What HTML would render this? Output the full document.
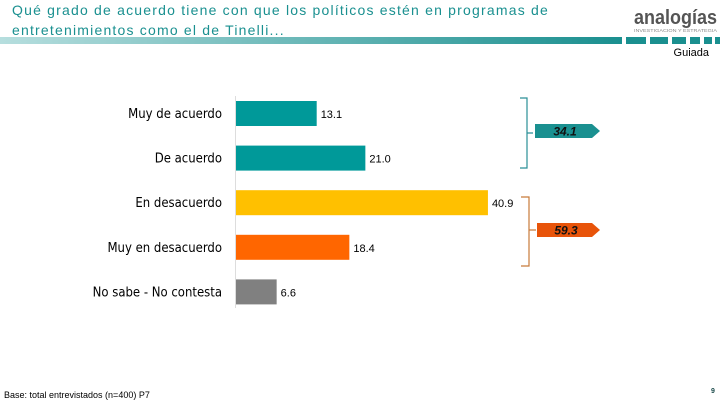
<!DOCTYPE html>
<html><head><meta charset="utf-8"><style>
body{margin:0;width:720px;height:405px;overflow:hidden;background:#fff;font-family:"Liberation Sans",sans-serif;position:relative}
.t{position:absolute;left:12px;top:0;color:#1a9090;font-size:14px;letter-spacing:1.2px;line-height:20px}
</style></head><body>
<div class="t">Qué grado de acuerdo tiene con que los políticos estén en programas de<br>entretenimientos como el de Tinelli...</div>
<svg width="720" height="405" style="position:absolute;left:0;top:0">
<defs><linearGradient id="g" x1="0" x2="1"><stop offset="0" stop-color="#b6dede"/><stop offset="1" stop-color="#1a8f8f"/></linearGradient></defs>
<rect x="0" y="37" width="622" height="7" fill="url(#g)"/>
<g fill="#1a8f8f"><rect x="626" y="37" width="20" height="7"/><rect x="650" y="37" width="18" height="7"/><rect x="672" y="37" width="14" height="7"/><rect x="690" y="37" width="10" height="7"/><rect x="704" y="37" width="8" height="7"/><rect x="715" y="37" width="5" height="7"/></g>
<text x="634" y="24" font-size="20" font-weight="bold" fill="#555" textLength="83" lengthAdjust="spacingAndGlyphs">analogías</text>
<text x="634" y="32" font-size="4.5" fill="#888" textLength="83" lengthAdjust="spacingAndGlyphs">INVESTIGACION Y ESTRATEGIA</text>
<text x="709" y="56" font-size="11" fill="#000" text-anchor="end">Guiada</text>
<line x1="235.5" y1="96" x2="235.5" y2="308" stroke="#ddd"/>
<g id="bars"></g>
<path d="M520 98 H527 V168 H520 M527 133 H533" fill="none" stroke="#2a8f96" stroke-width="1.2"/>
<path d="M535 124 H592 L600 131 L592 138 H535 Z" fill="#1a9090"/>
<text x="565" y="135.5" font-size="12" font-weight="bold" font-style="italic" text-anchor="middle" fill="#111">34.1</text>
<path d="M521 197 H529 V266 H521 M529 230 H536" fill="none" stroke="#c87a3a" stroke-width="1.2"/>
<path d="M537 223 H592 L600 230 L592 237 H537 Z" fill="#e8540a"/>
<text x="566" y="234.5" font-size="12" font-weight="bold" font-style="italic" text-anchor="middle" fill="#111">59.3</text>
<text x="4" y="398" font-size="9" fill="#000">Base: total entrevistados (n=400) P7</text>
<text x="711" y="393" font-size="7" font-weight="bold" fill="#1a4a4a">9</text>
</svg>
<script>
const categories=["Muy de acuerdo","De acuerdo","En desacuerdo","Muy en desacuerdo","No sabe - No contesta"];
const values=[13.1,21.0,40.9,18.4,6.6];
const labels=["13.1","21.0","40.9","18.4","6.6"];
const colors=["#009999","#009999","#ffc000","#ff6600","#808080"];
const ns="http://www.w3.org/2000/svg",g=document.getElementById("bars");
const x=v=>v*6.16, y=i=>101+i*44.6;
categories.forEach((c,i)=>{
 const r=document.createElementNS(ns,"rect");
 r.setAttribute("x",236);r.setAttribute("y",y(i));r.setAttribute("width",x(values[i]));r.setAttribute("height",25);r.setAttribute("fill",colors[i]);
 
 
 g.appendChild(r);
 const t=document.createElementNS(ns,"text");
 t.setAttribute("x",222);t.setAttribute("y",y(i)+17);t.setAttribute("text-anchor","end");t.setAttribute("font-size","13");t.setAttribute("font-family","DejaVu Sans Condensed, Liberation Sans, sans-serif");t.textContent=c;
 
 
 g.appendChild(t);
 const v=document.createElementNS(ns,"text");
 v.setAttribute("x",236+x(values[i])+4);v.setAttribute("y",y(i)+17);v.setAttribute("font-size","11");v.textContent=labels[i];
 
 
 g.appendChild(v);
});
</script>
</body></html>
